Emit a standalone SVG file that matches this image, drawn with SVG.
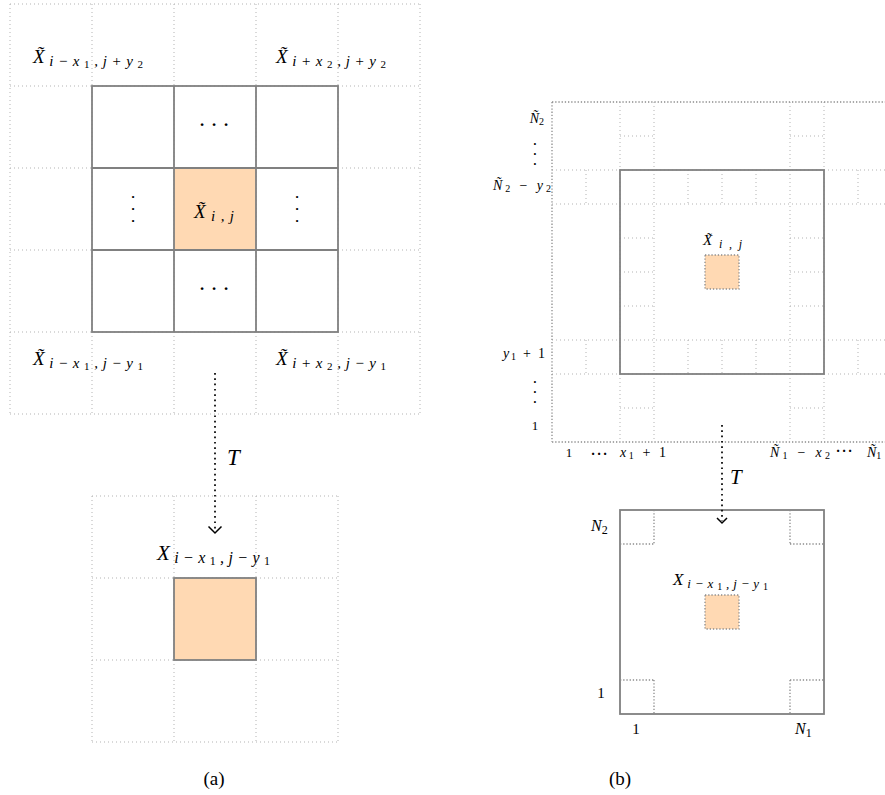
<svg xmlns="http://www.w3.org/2000/svg" width="885" height="795" viewBox="0 0 885 795">
<style>
.lt{stroke:#b3b3b3;stroke-width:1;stroke-dasharray:1 3;fill:none}
.dk{stroke:#8c8c8c;stroke-width:1.3;stroke-dasharray:1.3 1.9;fill:none}
.sd{stroke:#808080;stroke-width:1.8;fill:none}
.or{fill:#FFD9B3}
.ar{stroke:#000;stroke-width:1.7;stroke-dasharray:1.7 3.6;fill:none}
.hd{stroke:#000;stroke-width:1.5;fill:none}
text{font-family:"Liberation Serif","DejaVu Serif",serif;fill:#000}
.m{font-style:italic}
.up{font-style:normal}
.dt{font-size:17px;font-weight:bold;text-anchor:middle}
.dv{font-size:9px;text-anchor:middle}
.ds{font-size:14px;font-weight:bold;text-anchor:middle}
.dvs{font-size:8px;text-anchor:middle}
</style>
<rect width="885" height="795" fill="#fff"/>

<!-- (a) upper grid -->
<g id="grid-a-outer">
<path class="lt" d="M10,4V414M92,4V414M174,4V414M256,4V414M338,4V414M420,4V414M10,4H420M10,86H420M10,168H420M10,250H420M10,332H420M10,414H420"/>
</g>
<g id="cell-center-a">
<rect class="or" x="174" y="168" width="82" height="82"/>
</g>
<g id="grid-a-solid">
<rect class="sd" x="92" y="86" width="246" height="246"/>
<path class="sd" d="M174,86V332M256,86V332M92,168H338M92,250H338"/>
</g>
<g id="labels-a">
<text class="m" x="33" y="63" font-size="19" textLength="110" lengthAdjust="spacing">X̃<tspan font-size="15" dy="3">i−x</tspan><tspan class="up" font-size="11" dy="2">1</tspan><tspan font-size="15" dy="-2">,j+y</tspan><tspan class="up" font-size="11" dy="2">2</tspan></text>
<text class="m" x="276" y="63" font-size="19" textLength="110" lengthAdjust="spacing">X̃<tspan font-size="15" dy="3">i+x</tspan><tspan class="up" font-size="11" dy="2">2</tspan><tspan font-size="15" dy="-2">,j+y</tspan><tspan class="up" font-size="11" dy="2">2</tspan></text>
<text class="m" x="33" y="365" font-size="19" textLength="110" lengthAdjust="spacing">X̃<tspan font-size="15" dy="3">i−x</tspan><tspan class="up" font-size="11" dy="2">1</tspan><tspan font-size="15" dy="-2">,j−y</tspan><tspan class="up" font-size="11" dy="2">1</tspan></text>
<text class="m" x="276" y="365" font-size="19" textLength="110" lengthAdjust="spacing">X̃<tspan font-size="15" dy="3">i+x</tspan><tspan class="up" font-size="11" dy="2">2</tspan><tspan font-size="15" dy="-2">,j−y</tspan><tspan class="up" font-size="11" dy="2">1</tspan></text>
<text class="m" x="194" y="218" font-size="19" textLength="40" lengthAdjust="spacing">X̃<tspan font-size="15" dy="3">i,j</tspan></text>
<text class="dt" y="130"><tspan x="202">·</tspan><tspan x="214">·</tspan><tspan x="226">·</tspan></text>
<text class="dt" y="294"><tspan x="202">·</tspan><tspan x="214">·</tspan><tspan x="226">·</tspan></text>
<text class="dv"><tspan x="133" y="200">•</tspan><tspan x="133" y="212">•</tspan><tspan x="133" y="224">•</tspan></text>
<text class="dv"><tspan x="297" y="200">•</tspan><tspan x="297" y="212">•</tspan><tspan x="297" y="224">•</tspan></text>
</g>

<!-- (a) lower grid -->
<g id="grid-a-lower">
<path class="lt" d="M92,496V742M174,496V742M256,496V742M338,496V742M92,496H338M92,578H338M92,660H338M92,742H338"/>
</g>
<g id="cell-target-a">
<rect class="or" x="174" y="578" width="82" height="82" stroke="#808080" stroke-width="1.8"/>
<text class="m" x="157" y="560" font-size="21" textLength="113" lengthAdjust="spacing">X<tspan font-size="16" dy="3">i−x</tspan><tspan class="up" font-size="12" dy="2">1</tspan><tspan font-size="16" dy="-2">,j−y</tspan><tspan class="up" font-size="12" dy="2">1</tspan></text>
</g>

<!-- (b) upper -->
<g id="grid-b-outer">
<path class="lt" d="M552,170H885M552,204H885M552,340H885M552,374H885M620,102V442M654,102V442M790,102V442M824,102V442"/>
<path class="lt" d="M586,170V204M688,170V204M722,170V204M756,170V204M858,170V204M586,340V374M688,340V374M722,340V374M756,340V374M858,340V374"/>
<path class="lt" d="M620,136H654M620,238H654M620,272H654M620,306H654M620,408H654M790,136H824M790,238H824M790,272H824M790,306H824M790,408H824"/>
<path class="dk" d="M552,102V442M552,102H885M552,442H885"/>
</g>
<g id="box-b-upper">
<rect class="sd" x="620" y="170" width="204" height="204"/>
</g>
<g id="cell-center-b">
<rect class="or" x="705" y="255" width="34" height="34"/>
<rect class="dk" x="705" y="255" width="34" height="34"/>
<text class="m" x="703" y="245" font-size="15" textLength="39" lengthAdjust="spacing">X̃<tspan font-size="12" dy="3">i,j</tspan></text>
</g>
<g id="axis-labels-b">
<text class="m" x="544" y="123" font-size="14" text-anchor="end">Ñ<tspan class="up" font-size="10" dy="2">2</tspan></text>
<text class="dvs"><tspan x="535" y="147">•</tspan><tspan x="535" y="157">•</tspan><tspan x="535" y="167">•</tspan></text>
<text class="m" x="551" y="190" font-size="14" text-anchor="end" textLength="58" lengthAdjust="spacing">Ñ<tspan class="up" font-size="10" dy="2">2</tspan><tspan class="up" dy="-2"> − </tspan>y<tspan class="up" font-size="10" dy="2">2</tspan></text>
<text class="m" x="545" y="358" font-size="14" text-anchor="end" textLength="42" lengthAdjust="spacing">y<tspan class="up" font-size="10" dy="2">1</tspan><tspan class="up" dy="-2"> + 1</tspan></text>
<text class="dvs"><tspan x="535" y="385">•</tspan><tspan x="535" y="395">•</tspan><tspan x="535" y="405">•</tspan></text>
<text x="535" y="430" font-size="13" text-anchor="middle">1</text>
<text x="569" y="457" font-size="13" text-anchor="middle">1</text>
<text class="ds" y="459"><tspan x="593">·</tspan><tspan x="599">·</tspan><tspan x="605">·</tspan></text>
<text class="m" x="620" y="457" font-size="14" textLength="46" lengthAdjust="spacing">x<tspan class="up" font-size="10" dy="2">1</tspan><tspan class="up" dy="-2"> + 1</tspan></text>
<text class="m" x="770" y="457" font-size="14" textLength="60" lengthAdjust="spacing">Ñ<tspan class="up" font-size="10" dy="2">1</tspan><tspan class="up" dy="-2"> − </tspan>x<tspan class="up" font-size="10" dy="2">2</tspan></text>
<text class="ds" y="456"><tspan x="838">·</tspan><tspan x="844">·</tspan><tspan x="850">·</tspan></text>
<text class="m" x="867" y="457" font-size="14">Ñ<tspan class="up" font-size="10" dy="2">1</tspan></text>
</g>

<!-- (b) lower -->
<g id="box-b-lower">
<rect class="sd" x="620" y="510" width="204" height="204"/>
<path class="dk" d="M654,510V544M620,544H654M790,510V544M790,544H824M620,680H654M654,680V714M790,680H824M790,680V714"/>
</g>
<g id="cell-target-b">
<rect class="or" x="705" y="595" width="34" height="34"/>
<rect class="dk" x="705" y="595" width="34" height="34"/>
<text class="m" x="673" y="585" font-size="17" textLength="95" lengthAdjust="spacing">X<tspan font-size="13" dy="3">i−x</tspan><tspan class="up" font-size="10" dy="2">1</tspan><tspan font-size="13" dy="-2">,j−y</tspan><tspan class="up" font-size="10" dy="2">1</tspan></text>
</g>
<g id="labels-b-lower">
<text class="m" x="591" y="531" font-size="16">N<tspan class="up" font-size="12" dy="3">2</tspan></text>
<text x="601" y="698" font-size="15" text-anchor="middle">1</text>
<text x="636" y="734" font-size="15" text-anchor="middle">1</text>
<text class="m" x="795" y="734" font-size="16">N<tspan class="up" font-size="12" dy="3">1</tspan></text>
</g>

<!-- connectors -->
<g id="connectors">
<path class="ar" d="M215,373V531"/>
<path class="hd" d="M208.5,526.5L215,533L221.5,526.5"/>
<text class="m" x="227" y="465" font-size="23">T</text>
<path class="ar" d="M722,425V521"/>
<path class="hd" d="M717,518L722,523L727,518"/>
<text class="m" x="730" y="484" font-size="21">T</text>
</g>

<g id="captions">
<text x="214" y="785" font-size="19" text-anchor="middle">(a)</text>
<text x="620" y="785" font-size="19" text-anchor="middle">(b)</text>
</g>
</svg>
